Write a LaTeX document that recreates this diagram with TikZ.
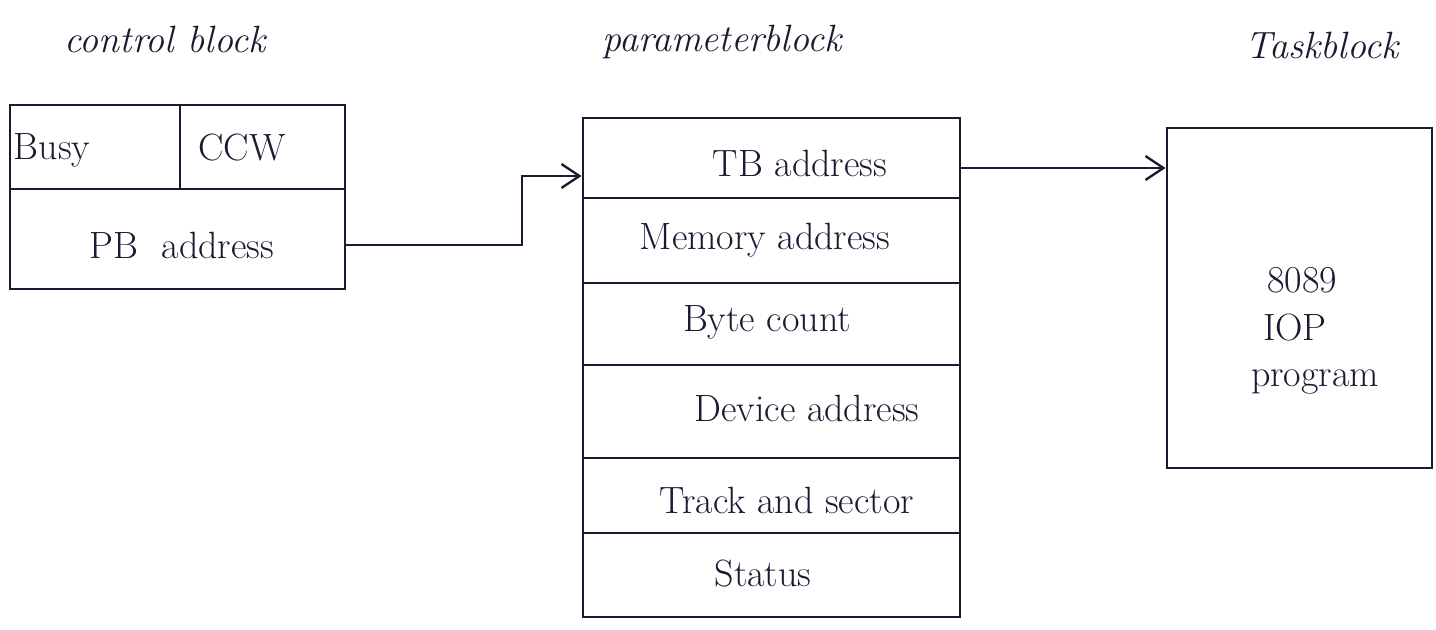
\documentclass[tikz,border=0pt]{standalone}
\usetikzlibrary{arrows.meta}
\definecolor{ink}{HTML}{1A1A33}
\begin{document}
\begin{tikzpicture}[x=0.5pt,y=-0.5pt,
  cell/.style={draw=ink,line width=1.4pt,inner sep=0pt,minimum width=#1},
  txt/.style={text=ink,font=\fontsize{19}{22}\selectfont,inner sep=1pt},
  ttl/.style={text=ink,font=\fontsize{19}{22}\selectfont\itshape,inner sep=1pt},
  arr/.style={draw=ink,line width=1.4pt,-{Straight Barb[length=9pt,width=12pt,line width=1.2pt]}}]
\useasboundingbox[fill=white] (0,0) rectangle (1436,630);
% titles
\node[ttl] (t1) at (165,40) {control block};
\node[ttl] (t2) at (722,42) {parameterblock};
\node[ttl] (t3) at (1322,46) {Taskblock};
% control block
\node[cell=85pt,minimum height=42pt] (busy) at (95,147) {};
\node[cell=82.5pt,minimum height=42pt] (ccw) at (262.5,147) {};
\node[cell=167.5pt,minimum height=50pt] (pbaddr) at (177.5,239) {};
\node[txt] (lbusy) at (52,150) {Busy};
\node[txt] (lccw) at (242,148) {CCW};
\node[txt] (lpb) at (182,245) {PB\ \ address};
% parameter block
\node[cell=188.5pt,minimum height=40pt] (r1) at (771.5,158) {};
\node[cell=188.5pt,minimum height=42.5pt] (r2) at (771.5,240.5) {};
\node[cell=188.5pt,minimum height=41pt] (r3) at (771.5,324) {};
\node[cell=188.5pt,minimum height=46.5pt] (r4) at (771.5,411.5) {};
\node[cell=188.5pt,minimum height=37.5pt] (r5) at (771.5,495.5) {};
\node[cell=188.5pt,minimum height=42pt] (r6) at (771.5,575) {};
\node[txt] (l1) at (800,163) {TB address};
\node[txt] (l2) at (765,240) {Memory address};
\node[txt] (l3) at (767,322) {Byte count};
\node[txt] (l4) at (807,408) {Device address};
\node[txt] (l5) at (787,500) {Track and sector};
\node[txt] (l6) at (763,574) {Status};
% task block
\node[cell=132.5pt,minimum height=170pt] (task) at (1299.5,298) {};
\node[txt] (l7) at (1302,280) {8089};
\node[txt] (l8) at (1295,328) {IOP};
\node[txt] (l9) at (1315,382) {program};
% connectors
\coordinate (bend) at (522,176);
\coordinate (tbout) at ([yshift=-5pt]r1.east);
\draw[arr] ([yshift=-3pt]pbaddr.east) -| (bend) -- (r1.west |- bend);
\draw[arr] (tbout) -- (task.west |- tbout);
\end{tikzpicture}
\end{document}
